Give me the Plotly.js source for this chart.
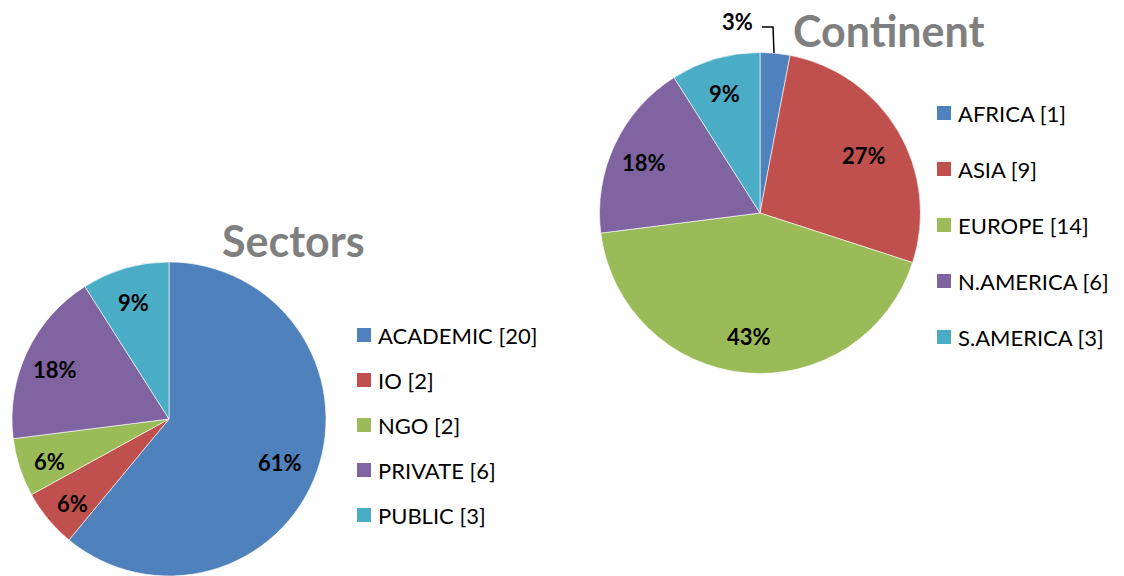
<!DOCTYPE html>
<html>
<head>
<meta charset="utf-8">
<script src="https://cdn.plot.ly/plotly-3.0.1.min.js"></script>
<style>html,body{margin:0;padding:0;background:#fff;}#chart{width:1124px;height:576px;}</style>
</head>
<body>
<div id="chart"></div>
<script>
// ---- data ----
const sectorLabels = ["ACADEMIC", "IO", "NGO", "PRIVATE", "PUBLIC"];
const sectorCounts = [20, 2, 2, 6, 3];          // counts shown in legend
const sectorShares = [61, 6, 6, 18, 9];         // slice percentages shown on the pie
const continentLabels = ["AFRICA", "ASIA", "EUROPE", "N.AMERICA", "S.AMERICA"];
const continentCounts = [1, 9, 14, 6, 3];
const continentShares = [3, 27, 43, 18, 9];
const sliceColors = ["#4F81BD", "#C0504D", "#9BBB59", "#8064A2", "#4BACC6"];
const titles = ["Sectors", "Continent"];

// ---- helpers ----
const W = 1124, H = 576;
const px = x => x / W;
const py = y => 1 - y / H;
const FONT = "Lato, 'Open Sans', sans-serif";
const sum = a => a.reduce((s, v) => s + v, 0);

// pie geometry (pixels): centre and radius
const sectorGeom = {cx: 169, cy: 419, r: 157};
const continentGeom = {cx: 760, cy: 213, r: 160.5};

function makePie(labels, shares, g) {
  return {
    type: "pie", labels: labels, values: shares, sort: false,
    direction: "clockwise", rotation: 0,
    marker: {colors: sliceColors, line: {color: "rgba(255,255,255,0.6)", width: 1}},
    textinfo: "none",
    domain: {x: [px(g.cx - g.r), px(g.cx + g.r)], y: [py(g.cy + g.r), py(g.cy - g.r)]},
    hoverinfo: "label+percent"
  };
}

const annotations = [];
const shapes = [];

// percentage labels placed along each slice bisector (best-fit style)
function addSliceLabels(shares, g, skip) {
  const tot = sum(shares);
  let cum = 0;
  shares.forEach((v, i) => {
    const mid = (cum + v / 2) / tot * 2 * Math.PI;
    cum += v;
    if (skip.includes(i)) return;
    const f = (v / tot > 0.2) ? 0.75 : 0.8;
    const x = g.cx + f * g.r * Math.sin(mid);
    const y = g.cy - f * g.r * Math.cos(mid) + 4;
    annotations.push({text: "<b>" + Math.round(100 * v / tot) + "%</b>", x: px(x), y: py(y),
      xref: "paper", yref: "paper", showarrow: false, xanchor: "center", yanchor: "middle",
      font: {family: FONT, size: 22, color: "#000"}});
  });
}
addSliceLabels(sectorShares, sectorGeom, []);
addSliceLabels(continentShares, continentGeom, [0]);

// titles
annotations.push({text: "<b>" + titles[0] + "</b>", x: px(293), y: py(240), xref: "paper", yref: "paper",
  showarrow: false, xanchor: "center", yanchor: "middle", font: {family: FONT, size: 43, color: "#7F7F7F"}});
annotations.push({text: "<b>" + titles[1] + "</b>", x: px(888), y: py(31), xref: "paper", yref: "paper",
  showarrow: false, xanchor: "center", yanchor: "middle", font: {family: FONT, size: 43, color: "#7F7F7F"}});

// legends
function addLegend(labels, counts, x0, y0, gap) {
  labels.forEach((lab, i) => {
    const yc = y0 + i * gap;
    shapes.push({type: "rect", xref: "paper", yref: "paper",
      x0: px(x0), x1: px(x0 + 14), y0: py(yc + 7), y1: py(yc - 7),
      fillcolor: sliceColors[i], line: {width: 0}});
    annotations.push({text: lab + " [" + counts[i] + "]", x: px(x0 + 19), y: py(yc), xref: "paper", yref: "paper",
      showarrow: false, xanchor: "left", yanchor: "middle", font: {family: FONT, size: 22, color: "#000"}});
  });
}
addLegend(sectorLabels, sectorCounts, 357, 335, 45);
addLegend(continentLabels, continentCounts, 937, 113, 56);

// outside label for smallest continent slice with elbow leader line
annotations.push({text: "<b>" + Math.round(100 * continentShares[0] / sum(continentShares)) + "%</b>",
  x: px(755), y: py(21), xref: "paper", yref: "paper", showarrow: false, xanchor: "right", yanchor: "middle",
  font: {family: FONT, size: 22, color: "#000"}});
shapes.push({type: "path", xref: "paper", yref: "paper",
  path: `M ${px(762)} ${py(27)} L ${px(773)} ${py(27)} L ${px(774)} ${py(53)}`,
  line: {color: "#000", width: 1.5}});

const layout = {
  width: W, height: H, margin: {l: 0, r: 0, t: 0, b: 0},
  paper_bgcolor: "#fff", showlegend: false,
  annotations, shapes
};
Plotly.newPlot("chart", [makePie(sectorLabels, sectorShares, sectorGeom),
                         makePie(continentLabels, continentShares, continentGeom)],
  layout, {displayModeBar: false, staticPlot: true});
</script>
</body>
</html>
